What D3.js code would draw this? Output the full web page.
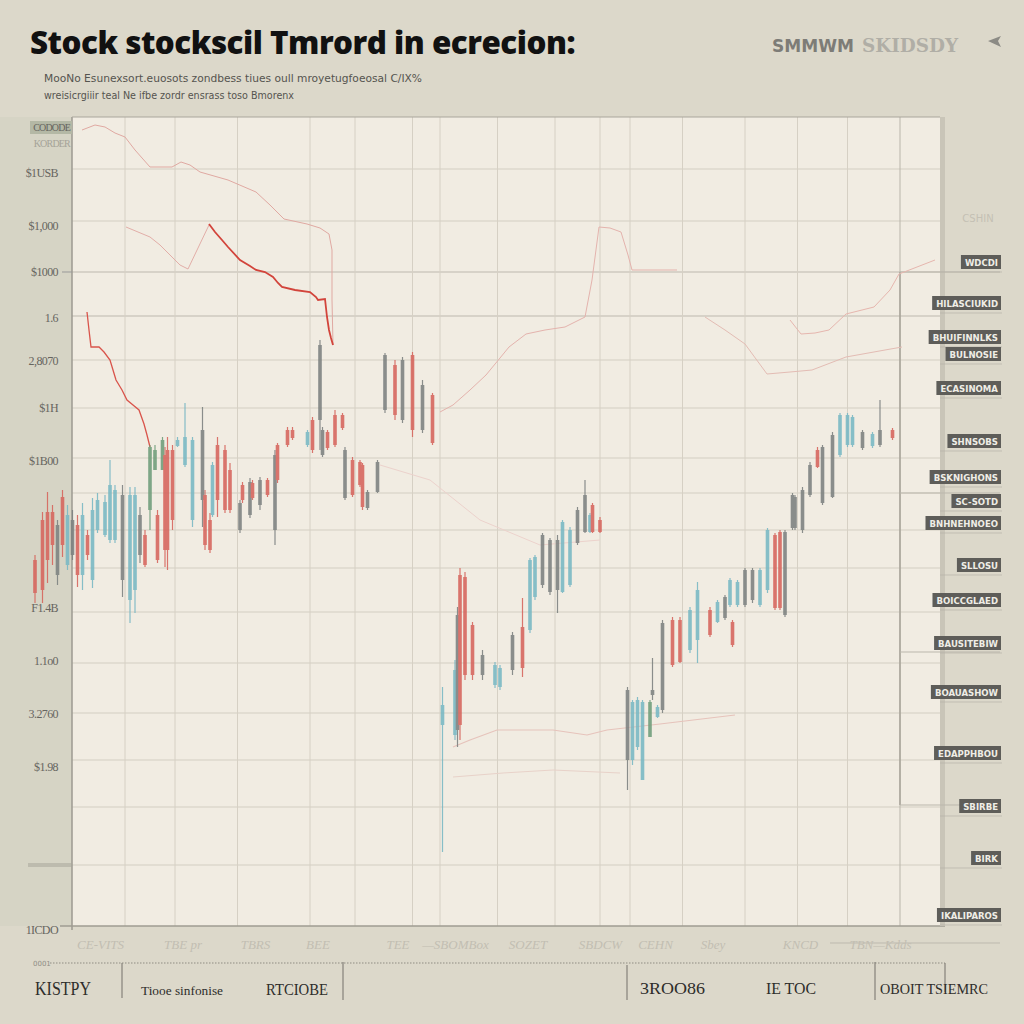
<!DOCTYPE html>
<html><head><meta charset="utf-8">
<script src="https://cdn.jsdelivr.net/npm/d3@7"></script>
<style>html,body{margin:0;padding:0;background:#dcd8ca;}svg{display:block}</style>
</head><body><svg id="c" width="1024" height="1024"></svg>
<script>
// ---------------- DATA ----------------
const titleText = "Stock stockscil Tmrord in ecrecion:";
const subtitleLines = ["MooNo Esunexsort.euosots  zondbess tiues oull mroyetugfoeosal C/IX%",
                       "wreisicrgiiir teal Ne ifbe  zordr ensrass toso Bmorenx"];
const brandWords = ["SMMWM", "SKIDSDY"];
const xDomain = [0, 362];           // trading sessions
const yDomain = [7.4, 88.3];        // price
const yGridValues = [83.1,77.9,72.8,68.4,64.0,59.2,54.2,50.7,47.0,43.2,38.8,33.7,28.7,24.0,19.3,13.5];
const xGridValues = [36,56,81,110,128,151,162,185,208,226,238,259,284,305,325,346];
const yTickValues = [87.3,85.7,82.7,77.4,72.8,68.2,63.9,59.2,53.9,39.2,33.9,28.6,23.3,7.0];
const yTickLabels = ["CODODE","KORDER","$1USB","$1,000","$1000","1.6","2,8070","$1H","$1B00","F1.4B","1.1o0","3.2760","$1.98","1ICDO"];
const xTickValues = [26,59,88,113,145,168,197,226,248,271,306,338];
const xTickLabels = ["CE-VITS","TBE pr","TBRS","BEE","TEE","—SBOMBox","SOZET","SBDCW","CEHN","Sbey","KNCD","TBN—Kdds"];
// [session, open, high, low, close, tone]  tone: r=red, t=teal, g=gray, v=green
const candles = [
[0,44.0,44.5,39.7,40.7,'r'],[3,48.0,48.8,39.7,41.0,'r'],[5,48.8,50.8,41.7,44.0,'r'],[7,48.8,49.5,43.5,45.5,'r'],
[9,47.5,48.0,41.5,42.5,'g'],[11,50.3,51.0,44.3,45.5,'r'],[13,43.5,49.5,43.0,48.5,'t'],[15,48.0,49.0,44.0,44.5,'g'],
[17,47.5,48.5,41.3,42.5,'r'],[19,42.5,49.7,41.0,48.5,'t'],[21,46.5,47.0,44.0,44.5,'r'],[23,42.0,50.2,41.2,49.0,'t'],
[25,47.0,50.7,46.7,50.0,'t'],[28,46.5,50.5,46.3,49.8,'t'],[30,46.0,54.0,45.7,51.5,'t'],[32,46.0,51.5,45.7,51.0,'t'],
[35,50.5,51.5,40.3,42.0,'g'],[38,40.0,51.3,37.7,50.5,'t'],[40,41.0,51.3,38.7,50.5,'t'],[42,48.5,49.3,43.7,44.5,'g'],
[44,46.5,47.0,43.3,43.5,'r'],[46,49.0,55.5,47.0,55.3,'v'],[48,53.0,55.5,53.0,55.0,'v'],[49,48.5,49.0,43.7,44.0,'r'],
[51,53.0,56.3,53.0,56.0,'v'],[52,54.5,55.3,43.3,45.0,'r'],[53,55.0,56.3,43.0,45.0,'r'],[55,55.0,55.5,47.0,48.0,'r'],
[57,55.4,56.3,55.3,56.0,'t'],[60,53.5,59.7,53.3,56.3,'t'],[63,48.0,56.3,47.3,56.0,'t'],[67,57.0,59.3,47.3,50.0,'g'],
[68,50.5,51.0,45.0,45.5,'r'],[70,48.0,48.7,44.7,45.0,'r'],[71,48.5,53.8,48.3,53.5,'t'],[73,55.5,56.3,48.3,50.0,'r'],
[76,55.0,55.5,48.7,49.0,'r'],[78,53.0,53.7,48.7,49.0,'r'],[82,49.7,50.0,46.7,47.0,'g'],[83,51.5,51.8,49.7,50.0,'r'],
[86,51.8,52.2,48.2,48.5,'g'],[87,51.7,52.0,50.0,50.2,'r'],[90,52.0,52.3,49.0,49.5,'g'],[93,52.0,52.2,50.3,50.5,'r'],
[96,54.5,55.0,45.5,47.0,'g'],[97,55.5,55.7,51.7,52.0,'r'],[101,57.0,57.3,55.3,55.5,'r'],[103,57.0,57.3,56.0,56.2,'r'],
[109,55.5,57.0,55.3,56.8,'t'],[111,58.0,58.3,54.7,55.0,'r'],[114,65.5,66.0,55.0,58.0,'g'],[115,57.0,57.3,54.3,54.5,'g'],
[117,56.8,57.0,55.0,55.2,'r'],[120,58.5,59.0,55.3,55.5,'r'],[123,58.5,58.7,57.0,57.2,'r'],[124,55.0,55.3,50.0,50.2,'g'],
[127,54.0,54.3,50.3,50.5,'r'],[130,53.8,54.0,51.3,51.5,'r'],[131,53.5,53.7,49.0,49.3,'r'],[133,50.8,51.0,49.0,49.2,'g'],
[137,53.8,54.0,50.7,50.8,'g'],[140,64.5,64.7,58.7,59.0,'g'],[144,63.5,64.0,58.0,58.5,'r'],[147,64.0,64.3,57.7,58.0,'g'],
[151,64.5,64.8,56.3,57.0,'r'],[155,61.5,62.0,56.7,57.0,'g'],[159,60.5,60.7,55.5,55.7,'r'],
[163,27.5,31.3,14.8,29.5,'t'],[168,26.5,34.0,26.0,33.0,'t'],[169,38.5,39.3,25.3,27.0,'g'],[170,42.5,43.2,26.0,27.5,'r'],
[172,42.3,42.8,32.0,32.5,'r'],[175,37.5,37.8,32.0,32.5,'r'],[179,34.5,35.0,32.0,32.5,'g'],[184,31.5,33.8,31.2,33.5,'t'],
[186,31.3,33.5,31.0,33.2,'t'],[191,36.5,36.8,32.5,33.0,'g'],[195,37.3,40.2,32.3,33.2,'r'],[198,37.0,44.2,36.7,44.0,'t'],
[200,40.3,44.5,40.0,44.3,'t'],[203,46.5,46.7,41.2,41.5,'g'],[206,46.0,46.2,40.5,40.8,'g'],[209,46.0,46.5,38.7,41.0,'g'],
[211,40.8,48.0,40.7,47.8,'t'],[214,41.5,47.3,41.3,47.0,'t'],[217,49.0,49.3,45.5,45.7,'g'],[220,50.5,52.0,46.7,46.8,'g'],
[222,46.8,48.7,46.7,48.5,'t'],[223,49.5,49.7,46.7,46.8,'r'],[226,48.0,48.3,46.7,46.8,'r'],
[237,31.0,31.3,21.0,24.0,'g'],[239,24.0,30.0,23.5,29.8,'t'],[241,25.3,30.3,25.0,30.0,'t'],[243,22.0,30.0,22.0,29.8,'t'],
[246,26.3,30.0,26.3,29.8,'v'],[247,31.0,34.2,30.0,30.5,'g'],[249,28.3,29.5,28.2,29.3,'t'],[251,37.7,38.0,28.7,29.0,'g'],
[255,38.0,38.3,33.3,33.5,'r'],[258,38.0,38.3,33.7,33.8,'r'],[262,35.0,39.3,34.7,39.0,'t'],[265,36.0,41.8,33.7,41.0,'t'],
[270,39.0,39.3,36.3,36.5,'r'],[273,37.8,40.0,37.7,39.8,'t'],[276,40.3,40.5,38.0,38.2,'g'],[278,39.5,42.2,39.3,42.0,'t'],
[279,37.8,38.0,35.3,35.5,'r'],[281,39.5,42.0,39.3,41.8,'t'],[284,43.0,43.2,39.3,39.5,'g'],[287,43.0,43.2,39.7,40.0,'g'],
[290,39.5,43.2,39.3,43.0,'t'],[293,41.0,47.2,40.7,47.0,'t'],[296,46.5,46.7,39.0,39.2,'r'],[298,46.8,47.0,39.0,39.2,'r'],
[300,46.8,47.0,38.3,38.5,'g'],[303,50.5,50.7,47.0,47.2,'g'],[304,50.3,50.5,47.0,47.2,'g'],[307,51.0,51.3,46.7,47.0,'g'],
[310,53.5,53.8,50.3,50.5,'g'],[313,55.0,55.3,53.2,53.3,'r'],[315,55.3,55.5,49.5,49.7,'g'],[319,56.5,56.8,50.2,50.3,'g'],
[322,54.5,58.7,54.3,58.5,'t'],[325,55.5,58.7,55.3,58.5,'t'],[327,55.5,58.5,55.3,58.3,'t'],[331,56.8,57.0,55.0,55.2,'g'],
[335,55.4,56.8,55.2,56.6,'t'],[338,57.0,60.0,55.3,55.5,'g'],[343,57.0,57.2,56.0,56.2,'r']
];
// overlay lines [session, price]
const trendRedA = [[69.6,77.6],[72,76.8],[74.8,76.0],[77.2,75.3],[82,74.0],[86,73.4],[88.4,73.0],[92,72.8],[95.2,72.3],[97.2,71.7],[98.8,71.3],[104,71.0],[110,70.8],[112.4,70.3],[113.2,70.0],[116,70.1],[116.8,68.3],[117.6,67.0],[118.4,66.2],[119.2,65.5]];
const trendRedB = [[20.8,68.8],[21.6,67.0],[22.4,65.3],[25.6,65.3],[27.6,64.8],[30,64.0],[31.2,63.0],[32.4,62.0],[34.8,61.0],[36.8,60.0],[39.2,59.5],[41.6,59.0],[43.6,57.6],[44.8,56.5],[46,55.3]];
const maTop = [[18.8,87.0],[24,87.5],[28,87.3],[32,86.7],[36,86.3],[40,85.0],[46,83.3],[54.8,83.3],[58.4,83.8],[62,83.5],[66,82.8],[77.2,82.0],[88.4,80.8],[94,79.5],[99.6,78.1],[108.8,77.6],[114,77.2],[117.6,76.6],[118.8,75.0],[118.8,70.0],[119.2,65.5]];
const maLeft = [[36.4,77.3],[41.2,76.8],[46,76.3],[50,75.5],[54.8,74.3],[58,73.5],[61.2,73.1],[65.2,75.2],[69.6,77.5]];
const maMid = [[162,58.8],[167.2,59.5],[174,61.0],[180.4,62.5],[186,64.2],[189.6,65.3],[196.4,66.6],[204,67.0],[212,67.3],[220,68.3],[222.8,72.0],[225.6,77.3],[230,77.2],[234.4,76.8],[237.2,74.5],[238.8,73.0],[256.8,73.0]];
const maRight1 = [[268,68.3],[276,67.0],[284,65.6],[292.8,62.6],[302,62.8],[310.8,63.0],[324.4,64.3],[340,65.0],[346.8,65.3]];
const maRight2 = [[302,68.0],[306.4,66.6],[312,66.7],[317.6,67.0],[324.4,68.6],[335.6,69.3],[342,71.0],[345.6,72.6],[360,74.0]];
const maLow1 = [[167.2,25.3],[174,26.0],[184.8,27.0],[207.2,27.0],[220.8,26.5],[228.8,27.0],[250,27.6],[280,28.5]];
const maLow2 = [[167.2,22.3],[187.2,22.7],[207.2,23.0],[234,22.7]];
const maCenter = [[138,53.5],[158,52.0],[178,48.0],[202,45.5],[226,46.0]];
const rightLabels = [["WDCDI",73.8],["HILASCIUKID",69.7],["BHUIFINNLKS",66.3],["BULNOSIE",64.6],["ECASINOMA",61.2],
  ["SHNSOBS",55.9],["BSKNIGHONS",52.3],["SC-SOTD",49.9],["BNHNEHNOEO",47.7],["SLLOSU",43.5],["BOICCGLAED",40.0],
  ["BAUSITEBIW",35.7],["BOAUASHOW",30.8],["EDAPPHBOU",24.7],["SBIRBE",19.4],["BIRK",14.2],["IKALIPAROS",8.5]];
const legendItems = ["KISTPY","Tiooe sinfonise","RTCIOBE","3ROO86","IE TOC","OBOIT TSIEMRC"];

// ---------------- DRAW ----------------
const svg = d3.select("#c");
const PL=72, PR=940, PT=117, PB=926;
const x = d3.scaleLinear().domain(xDomain).range([35, 940]);
const y = d3.scaleLinear().domain(yDomain).range([926, 117]);
const tone = d3.scaleOrdinal().domain(['r','t','g','v']).range(['#d6645c','#78b8c4','#7c8180','#6f9d7a']);

svg.append("rect").attr("width",1024).attr("height",1024).attr("fill","#dcd8ca");
svg.append("rect").attr("x",0).attr("y",PT).attr("width",PL).attr("height",PB-PT).attr("fill","#d6d4c5");
svg.append("rect").attr("x",PL).attr("y",PT).attr("width",PR-PL).attr("height",PB-PT).attr("fill","#f1ece2");

// grid
svg.append("g").selectAll("line").data(yGridValues).join("line")
  .attr("x1",PL).attr("x2",PR).attr("y1",d=>y(d)).attr("y2",d=>y(d))
  .attr("stroke",(d,i)=> (i===2||i===3)?"#bdb8ad":"#d3cdc1").attr("stroke-width",1.1);
svg.append("g").selectAll("line").data(xGridValues).join("line")
  .attr("x1",d=>x(d)).attr("x2",d=>x(d)).attr("y1",PT).attr("y2",PB)
  .attr("stroke",(d,i)=> i===xGridValues.length-1?"#b9b5aa":"#d6d0c4").attr("stroke-width",1);

// frame
svg.append("line").attr("x1",PL).attr("x2",PL).attr("y1",PT).attr("y2",PB+4).attr("stroke","#9d9a90").attr("stroke-width",1.5);
svg.append("line").attr("x1",PL).attr("x2",PR).attr("y1",PT).attr("y2",PT).attr("stroke","#a9a59b").attr("stroke-width",1.2);
svg.append("line").attr("x1",60).attr("x2",PR+5).attr("y1",PB).attr("y2",PB).attr("stroke","#9f9c92").attr("stroke-width",1.5);
svg.append("rect").attr("x",PR).attr("y",PT).attr("width",5).attr("height",PB-PT).attr("fill","#c9c5b8");
svg.append("line").attr("x1",x(346)).attr("x2",x(346)).attr("y1",y(72.8)).attr("y2",y(19.5)).attr("stroke","#a8a49a").attr("stroke-width",1.5);
[72.8,50.7,34.8,19.5].forEach(p=>svg.append("line").attr("x1",x(346)).attr("x2",1000).attr("y1",y(p)).attr("y2",y(p)).attr("stroke","#bbb7ac").attr("stroke-width",1));
svg.append("line").attr("x1",830).attr("x2",1000).attr("y1",943).attr("y2",943).attr("stroke","#bdb9ae");

// overlay lines
const line = d3.line().x(d=>x(d[0])).y(d=>y(d[1]));
const faint = [[maTop,"#e0a9a2",1],[maLeft,"#e2aea8",1],[maMid,"#e4b3ad",1],[maRight1,"#e3bcb4",1],[maRight2,"#e6b6ae",1],
               [maLow1,"#e6c3bb",1.2],[maLow2,"#e8d2c9",1],[maCenter,"#ecd2cc",1]];
faint.forEach(([pts,c,w])=>svg.append("path").attr("d",line(pts)).attr("fill","none").attr("stroke",c).attr("stroke-width",w));
svg.append("path").attr("d",line(trendRedA)).attr("fill","none").attr("stroke","#d2443b").attr("stroke-width",1.8);
svg.append("path").attr("d",line(trendRedB)).attr("fill","none").attr("stroke","#d9544b").attr("stroke-width",1.3);

// candles
const cg = svg.append("g").attr("opacity",0.88);
cg.selectAll("line").data(candles).join("line")
  .attr("x1",d=>x(d[0])).attr("x2",d=>x(d[0])).attr("y1",d=>y(d[2])).attr("y2",d=>y(d[3]))
  .attr("stroke",d=>tone(d[5])).attr("stroke-width",1.2);
cg.selectAll("rect").data(candles).join("rect")
  .attr("x",d=>x(d[0])-1.8).attr("width",3.6)
  .attr("y",d=>y(Math.max(d[1],d[4])))
  .attr("height",d=>Math.max(1.5,Math.abs(y(d[1])-y(d[4]))))
  .attr("fill",d=>tone(d[5]));

// y axis labels
svg.append("rect").attr("x",30).attr("y",y(yTickValues[0])-6).attr("width",42).attr("height",13).attr("fill","#b4b8a5");
const yAxis = svg.append("g").attr("transform",`translate(${PL},0)`)
  .call(d3.axisLeft(y).tickValues(yTickValues).tickFormat((d,i)=>yTickLabels[i]).tickSize(0).tickPadding(14));
yAxis.select(".domain").remove();
yAxis.selectAll("text").attr("font-family","Liberation Serif").attr("font-size",12)
  .attr("fill",(d,i)=> i===1?"#a5a398":"#66655f").attr("letter-spacing",-0.6);
yAxis.selectAll(".tick").filter((d,i)=>i<2).select("text").attr("font-size",10).attr("dx",12).attr("letter-spacing",-0.8);
svg.append("line").attr("x1",62).attr("x2",PL).attr("y1",y(72.8)).attr("y2",y(72.8)).attr("stroke","#999");
svg.append("line").attr("x1",28).attr("x2",PL).attr("y1",865).attr("y2",865).attr("stroke","#a9a79c").attr("stroke-width",4).attr("opacity",0.55);

// x axis faint labels
const xAxis = svg.append("g").attr("transform",`translate(0,${PB})`)
  .call(d3.axisBottom(x).tickValues(xTickValues).tickFormat((d,i)=>xTickLabels[i]).tickSize(0).tickPadding(14));
xAxis.select(".domain").remove();
xAxis.selectAll("text").attr("font-family","Liberation Serif").attr("font-style","italic").attr("font-size",13).attr("fill","#c2beb2");

// right labels
rightLabels.forEach(([txt,p])=>{
  const g = svg.append("g");
  g.append("line").attr("x1",940).attr("x2",1002).attr("y1",y(p)+10).attr("y2",y(p)+10).attr("stroke","#b7b3a8").attr("stroke-width",1).attr("opacity",0.7);
  const r = g.append("rect");
  const t = g.append("text").attr("x",998).attr("y",y(p)+3.5).attr("text-anchor","end")
    .attr("font-family","DejaVu Sans Condensed, DejaVu Sans").attr("font-weight","bold").attr("font-size",9.5)
    .attr("fill","#efede6").text(txt);
  const w = t.node().getComputedTextLength();
  r.attr("x",998-w-4).attr("y",y(p)-7).attr("width",w+7).attr("height",14).attr("fill","#5e5d59");
});
svg.append("text").attr("x",978).attr("y",y(78.2)+4).attr("text-anchor","middle").attr("font-family","DejaVu Sans").attr("font-size",10).attr("fill","#c4c0b4").text("CSHIN");

// title
svg.append("text").attr("x",30).attr("y",54).attr("font-family","Open Sans").attr("font-weight",800).attr("font-size",32)
  .attr("fill","#111").attr("textLength",545).attr("lengthAdjust","spacingAndGlyphs").attr("letter-spacing",-0.5).text(titleText);
svg.append("text").attr("x",44).attr("y",82).attr("font-family","DejaVu Sans Condensed, DejaVu Sans").attr("font-size",11)
  .attr("fill","#55544f").attr("textLength",378).attr("lengthAdjust","spacingAndGlyphs").text(subtitleLines[0]);
svg.append("text").attr("x",44).attr("y",99).attr("font-family","DejaVu Sans Condensed, DejaVu Sans").attr("font-size",11)
  .attr("fill","#55544f").attr("textLength",250).attr("lengthAdjust","spacingAndGlyphs").text(subtitleLines[1]);
svg.append("text").attr("x",772).attr("y",52).attr("font-family","DejaVu Sans Condensed, DejaVu Sans").attr("font-weight","bold")
  .attr("font-size",18).attr("fill","#7d7c77").attr("textLength",82).attr("lengthAdjust","spacingAndGlyphs").text(brandWords[0]);
svg.append("text").attr("x",862).attr("y",52).attr("font-family","DejaVu Serif").attr("font-weight","bold")
  .attr("font-size",18).attr("fill","#b0aea6").attr("textLength",96).attr("lengthAdjust","spacingAndGlyphs").text(brandWords[1]);
svg.append("path").attr("d","M988,41 L1001,36 L998,41 L1001,47 Z").attr("fill","#8c8b85");

// bottom legend
svg.append("text").attr("x",33).attr("y",966).attr("font-family","DejaVu Sans").attr("font-size",7).attr("fill","#8f8d85").text("0001");
svg.append("line").attr("x1",50).attr("x2",945).attr("y1",963).attr("y2",963).attr("stroke","#8f8c82").attr("stroke-dasharray","1.5,1.5");
[[122,963,998],[343,962,1000],[627,965,1000],[875,962,1000],[945,963,992]].forEach(([lx,a,b])=>
  svg.append("line").attr("x1",lx).attr("x2",lx).attr("y1",a).attr("y2",b).attr("stroke","#85827a").attr("stroke-width",1.2));
const legPos = [[35,995,18,56],[141,995,13,82],[266,995,17,62],[640,994,17,65],[766,994,17,50],[880,994,15,108]];
legendItems.forEach((t,i)=>{
  const [lx,ly,fs,tl]=legPos[i];
  svg.append("text").attr("x",lx).attr("y",ly).attr("font-family","Liberation Serif").attr("font-size",fs)
    .attr("fill","#2e2d2a").attr("textLength",tl).attr("lengthAdjust","spacingAndGlyphs").text(t);
});
</script></body></html>
